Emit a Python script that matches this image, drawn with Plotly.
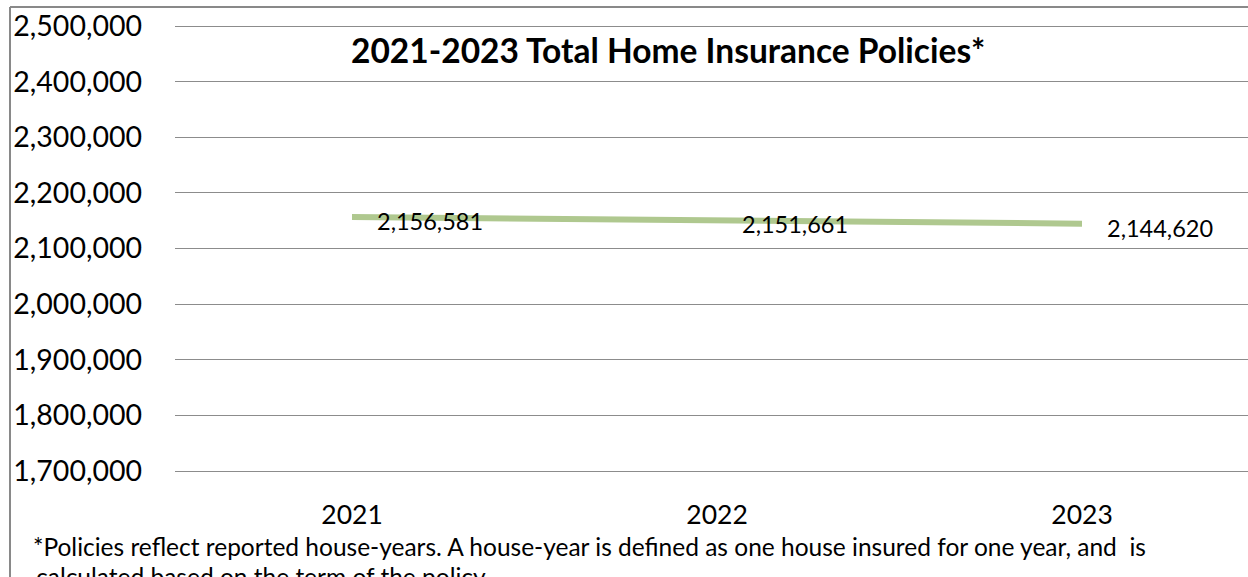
import plotly.graph_objects as go

# Policy counts by year
years = [2021, 2022, 2023]
policies = [2156581, 2151661, 2144620]

y_ticks = [1700000, 1800000, 1900000, 2000000, 2100000, 2200000, 2300000, 2400000, 2500000]

title_text = "2021-2023 Total Home Insurance Policies*"
note_line1 = "*Policies reflect reported house-years. A house-year is defined as one house insured for one year, and  is"
note_line2 = "calculated based on the term of the policy."

W, H = 1248, 577
L, R, T, B = 175, 1248, 24, 473  # plot area in pixels (2px padding past the end gridlines)
FONT = "Lato"
GRID = "#8c8c8c"


def px_x(px):
    return (px - L) / (R - L)


def px_y(py):
    return (B - py) / (B - T)


fig = go.Figure()
fig.add_trace(go.Scatter(
    x=years, y=policies, mode="lines",
    line=dict(color="#afc88f", width=6),
    hoverinfo="skip", showlegend=False,
))

# value labels to the right of each point
for yr, v in zip(years, policies):
    fig.add_annotation(
        x=yr, y=v, text=f"{v:,}", showarrow=False,
        xanchor="left", yanchor="middle", xshift=23, yshift=-4,
        font=dict(family=FONT, size=23.5, color="#000000"),
    )

fig.add_annotation(
    xref="paper", yref="paper", x=px_x(668), y=px_y(50), text=f"<b>{title_text}</b>",
    showarrow=False, xanchor="center", yanchor="middle",
    font=dict(family=FONT, size=33.5, color="#000000"),
)
fig.add_annotation(
    xref="paper", yref="paper", x=px_x(31), y=px_y(546), text=note_line1,
    showarrow=False, xanchor="left", yanchor="middle",
    font=dict(family=FONT, size=24.5, color="#000000"),
)
fig.add_annotation(
    xref="paper", yref="paper", x=px_x(34), y=px_y(576), text=note_line2,
    showarrow=False, xanchor="left", yanchor="middle",
    font=dict(family=FONT, size=24.5, color="#000000"),
)

# outer chart border (left and top edges visible)
fig.add_shape(type="line", xref="paper", yref="paper",
              x0=px_x(10), x1=px_x(10), y0=px_y(7), y1=px_y(600),
              line=dict(color="#898989", width=2))
fig.add_shape(type="line", xref="paper", yref="paper",
              x0=px_x(10), x1=px_x(1260), y0=px_y(7), y1=px_y(7),
              line=dict(color="#898989", width=2))

fig.update_layout(
    width=W, height=H,
    margin=dict(l=L, r=W - R, t=T, b=H - B, pad=0),
    paper_bgcolor="#ffffff", plot_bgcolor="#ffffff",
    font=dict(family=FONT, color="#000000"),
    xaxis=dict(
        range=[2021 - (352 - L) / 365, 2023 + (R - 1082) / 365],
        tickvals=years, ticktext=[str(y) for y in years],
        showgrid=False, zeroline=False, showline=False,
        ticks="", ticklabelstandoff=23,
        tickfont=dict(family=FONT, size=26.5, color="#000000"),
    ),
    yaxis=dict(
        range=[1696400, 2503600], tickvals=y_ticks,
        tickformat=",", showgrid=True, gridcolor=GRID, gridwidth=1.3,
        zeroline=False, showline=False, ticks="", ticklabelstandoff=32,
        tickfont=dict(family=FONT, size=28.5, color="#000000"),
    ),
)

fig.write_html("out.html")
